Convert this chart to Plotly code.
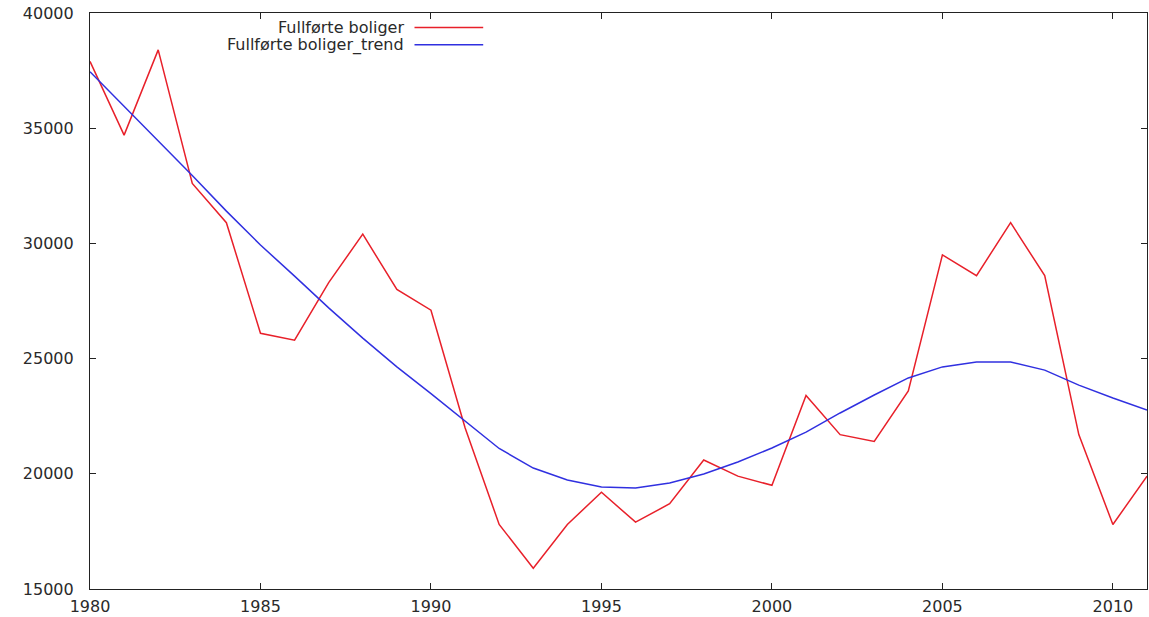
import plotly.graph_objects as go

# Completed dwellings per year and the smoothed trend
years = list(range(1980, 2012))
fullforte = [37900, 34700, 38400, 32600, 30900, 26100, 25800, 28300,
             30400, 28000, 27100, 22000, 17800, 15900, 17800, 19200,
             17900, 18700, 20600, 19900, 19500, 23400, 21700, 21400,
             23600, 29500, 28600, 30900, 28600, 21700, 17800, 19900]
trend = [37450, 35950, 34450, 32950, 31400, 29930, 28580, 27200,
         25890, 24640, 23480, 22300, 21100, 20250, 19730, 19430,
         19380, 19600, 19990, 20510, 21120, 21810, 22640, 23420,
         24160, 24640, 24850, 24850, 24500, 23850, 23290, 22770]

series_names = ["Fullførte boliger", "Fullførte boliger_trend"]
series_colors = ["#e8202a", "#3030e0"]

x_ticks = [1980, 1985, 1990, 1995, 2000, 2005, 2010]
y_ticks = [15000, 20000, 25000, 30000, 35000, 40000]

FONT = dict(family="DejaVu Sans, Verdana, sans-serif", size=16, color="#2a2a2a")

fig = go.Figure()
for name, values, color in zip(series_names, [fullforte, trend], series_colors):
    fig.add_trace(go.Scatter(x=years, y=values, mode="lines", name=name,
                             line=dict(color=color, width=1.5),
                             showlegend=False))

axis_style = dict(showgrid=False, zeroline=False, showline=True,
                  linecolor="#222222", linewidth=1.2, mirror="ticks",
                  ticks="inside", ticklen=6, tickcolor="#222222",
                  tickwidth=1.2, tickfont=FONT)

fig.update_xaxes(range=[1980, 2011], tickvals=x_ticks,
                 ticktext=[str(v) for v in x_ticks],
                 ticklabelstandoff=3, **axis_style)
fig.update_yaxes(range=[15000, 40000], tickvals=y_ticks,
                 ticktext=[str(v) for v in y_ticks],
                 ticklabelstandoff=12, **axis_style)

# Key in the top-left corner: label text followed by a line sample
key_rows_y = [0.975, 0.945]
for name, color, ky in zip(series_names, series_colors, key_rows_y):
    fig.add_annotation(xref="paper", yref="paper", x=0.299, y=ky,
                       text=name, showarrow=False, xanchor="right",
                       yanchor="middle", font=FONT)
    fig.add_shape(type="line", xref="paper", yref="paper",
                  x0=0.307, x1=0.372, y0=ky, y1=ky,
                  line=dict(color=color, width=1.5))

fig.update_layout(width=1149, height=617,
                  margin=dict(l=90, r=2, t=13, b=28),
                  paper_bgcolor="white", plot_bgcolor="white",
                  font=FONT)

fig.write_html("out.html")
